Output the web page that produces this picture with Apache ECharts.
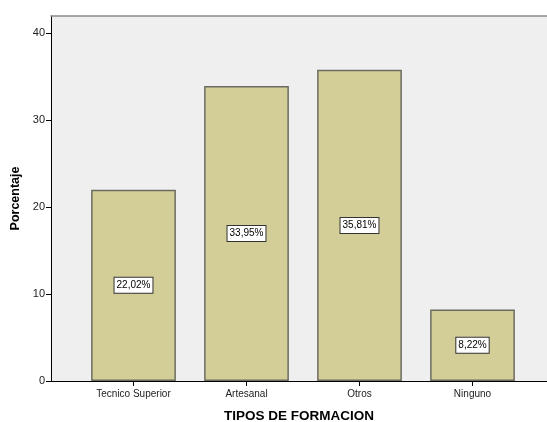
<!DOCTYPE html>
<html>
<head>
<meta charset="utf-8">
<script src="https://cdn.jsdelivr.net/npm/echarts@6/dist/echarts.min.js"></script>
<style>
  html, body { margin: 0; padding: 0; background: #fff; }
  #main { width: 547px; height: 422px; }
</style>
</head>
<body>
<div id="main"></div>
<script>
  // datos del grafico
  var categorias = ['Tecnico Superior', 'Artesanal', 'Otros', 'Ninguno']
  var porcentajes = [22.02, 33.95, 35.81, 8.22]
  var ticksY = [0, 10, 20, 30, 40]

  var myChart = echarts.init(document.getElementById('main'))
  var fuente = 'Liberation Sans, Arial, sans-serif'

  var option = {
    animation: false,
    textStyle: { fontFamily: fuente },
    grid: [
      // fondo gris y eje Y
      { left: 51, right: 0, top: 16, bottom: 41, show: true, backgroundColor: '#efefef', borderWidth: 0, outerBoundsMode: 'none', containLabel: false },
      // barras
      { left: 77, width: 452, top: 16, bottom: 41, outerBoundsMode: 'none', containLabel: false }
    ],
    xAxis: [
      {
        gridIndex: 0, type: 'value', min: 0, max: 1,
        axisLine: { show: true, onZero: false, lineStyle: { color: '#000', width: 1 } },
        axisTick: { show: false }, axisLabel: { show: false }, splitLine: { show: false },
        name: 'TIPOS DE FORMACION', nameLocation: 'middle', nameGap: 28,
        nameTextStyle: { fontWeight: 'bold', fontSize: 13.5, color: '#000', fontFamily: fuente, verticalAlign: 'top' }
      },
      {
        gridIndex: 0, type: 'value', min: 0, max: 1, position: 'top',
        axisLine: { show: true, onZero: false, lineStyle: { color: '#8a8a8a', width: 1.5 } },
        axisTick: { show: false }, axisLabel: { show: false }, splitLine: { show: false }
      },
      {
        gridIndex: 1, type: 'category', data: categorias,
        axisLine: { show: false },
        axisTick: { show: true, alignWithLabel: true, length: 5, lineStyle: { color: '#000' } },
        axisLabel: { fontSize: 10, color: '#222', margin: 8, fontFamily: fuente }
      }
    ],
    yAxis: [
      {
        gridIndex: 0, type: 'value', min: 0, max: 42,
        axisLine: { show: true, lineStyle: { color: '#000' } },
        axisTick: { show: true, length: 5, lineStyle: { color: '#000' }, customValues: ticksY },
        axisLabel: { fontSize: 11, color: '#222', margin: 6, customValues: ticksY, fontFamily: fuente },
        splitLine: { show: false },
        name: 'Porcentaje', nameLocation: 'middle', nameGap: 23,
        nameTextStyle: { fontWeight: 'bold', fontSize: 12.5, color: '#000', fontFamily: fuente }
      },
      {
        gridIndex: 1, type: 'value', min: 0, max: 42, show: false
      }
    ],
    series: [{
      type: 'bar',
      xAxisIndex: 2,
      yAxisIndex: 1,
      data: porcentajes,
      barWidth: '75%',
      itemStyle: { color: '#d3ce98', borderColor: '#6b6b60', borderWidth: 1.5 },
      label: {
        show: true,
        position: 'inside',
        formatter: function (p) { return p.value.toFixed(2).replace('.', ',') + '%' },
        color: '#000',
        fontSize: 10,
        fontFamily: fuente,
        backgroundColor: '#fff',
        borderColor: '#333',
        borderWidth: 1,
        padding: [3, 2, 2, 2]
      }
    }]
  }

  myChart.setOption(option)
</script>
</body>
</html>
